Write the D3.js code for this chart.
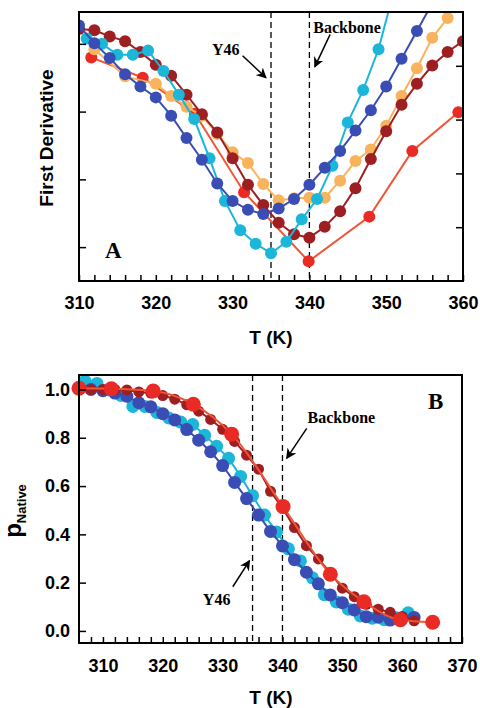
<!DOCTYPE html>
<html>
<head>
<meta charset="utf-8">
<script src="https://cdn.jsdelivr.net/npm/d3@7"></script>
<style>
  body { margin: 0; background: #fff; }
  svg { display: block; }
</style>
</head>
<body>
<div id="canvas"></div>
<script>
// ---- panel A : first derivative ----
var cyanA_T = [311,313,315,317,319,321,323,325,327,329,331,333,335,337,339,341,343,345,347,349,351];
var cyanA   = [4.08,4.00,3.84,3.84,3.90,3.60,3.25,2.89,2.31,1.68,1.25,1.05,0.91,1.08,1.41,1.71,2.20,2.84,3.32,3.92,4.78];

var blueA_T = [310,312,314,316,318,320,322,324,326,328,330,332,334,336,338,340,342,344,346,348,350,352,354,356];
var blueA   = [4.27,4.01,3.79,3.55,3.37,3.21,2.94,2.61,2.29,1.94,1.68,1.55,1.49,1.57,1.71,1.92,2.17,2.42,2.72,3.02,3.37,3.78,4.19,4.6];

var orangeA_T = [312,316,320,322,324,326,328,330,332,334,336,338,340,342,344,346,348,350,352,354,356,358,360];
var orangeA   = [3.92,3.52,3.41,3.23,3.07,2.94,2.67,2.40,2.24,1.93,1.69,1.72,1.73,1.73,1.98,2.27,2.44,2.79,3.23,3.64,4.09,4.38,4.83];

var darkredA_T = [310,312,314,316,318,320,322,324,326,328,330,332,334,336,338,340,342,344,346,348,350,352,354,356,358,360];
var darkredA   = [4.22,4.20,4.11,4.04,3.88,3.69,3.53,3.25,2.96,2.69,2.31,1.92,1.62,1.36,1.19,1.14,1.30,1.53,1.87,2.30,2.71,3.10,3.41,3.68,3.88,4.04];

var redA_T = [311.6,318.3,325.1,331.5,339.9,347.8,353.4,359.4];
var redA   = [3.80,3.50,2.97,1.81,0.79,1.45,2.42,2.99];

// ---- panel B : pNative ----
var cyanB_T = [307,309,311,313,315,317,319,321,323,325,327,329,331,333,335,337,339,341,343,345,347,349,351,353,355,357,359,361];
var cyanB   = [1.035,1.025,0.998,0.975,0.93,0.93,0.905,0.882,0.865,0.855,0.81,0.765,0.715,0.64,0.56,0.48,0.41,0.34,0.29,0.22,0.15,0.12,0.09,0.062,0.053,0.047,0.055,0.075];

var blueB_T = [308,310,312,314,316,318,320,322,324,326,328,330,332,334,336,338,340,342,344,346,348,350,352,354,356,358,360,362];
var blueB   = [1.0,0.995,0.985,0.972,0.945,0.928,0.90,0.874,0.834,0.79,0.742,0.685,0.615,0.548,0.48,0.412,0.352,0.295,0.243,0.195,0.149,0.117,0.087,0.059,0.057,0.045,0.052,0.056];

var darkredB_T = [308,310,312,314,316,318,320,322,324,326,328,330,332,334,336,338,340,342,344,346,348,350,352,354,356,358,360,362];
var darkredB   = [1.0,1.0,1.0,0.998,0.99,0.985,0.975,0.96,0.937,0.91,0.876,0.835,0.785,0.728,0.67,0.578,0.51,0.428,0.353,0.298,0.24,0.177,0.142,0.11,0.09,0.077,0.06,0.042];

var redB_T = [306,311.4,318.4,325.1,331.5,340.1,348,353.6,359.7,365.1];
var redB   = [1.005,1.003,0.994,0.939,0.815,0.515,0.235,0.121,0.046,0.036];

var markT = [335, 340]; // Y46, Backbone

var col = {
  cyan: "#1cb6d8",
  blue: "#3a4db4",
  orange: "#f8b35c",
  darkred: "#9e1f22",
  red: "#ea2a24",
  redline: "#f05534"
};

var W = 480, H = 708;
var sansF = "'Liberation Sans', Arial, sans-serif";
var serifF = "'Liberation Serif', 'Times New Roman', serif";

var svg = d3.select("#canvas").append("svg")
  .attr("width", W).attr("height", H);

var defs = svg.append("defs");
defs.append("marker").attr("id", "arr")
  .attr("viewBox", "0 0 10 10").attr("refX", 9).attr("refY", 5)
  .attr("markerWidth", 7).attr("markerHeight", 7).attr("orient", "auto")
  .append("path").attr("d", "M0,0 L10,5 L0,10 L3,5 Z").attr("fill", "#000");

function zip(ts, vs) { return ts.map(function(t, i) { return {t: t, v: vs[i]}; }); }

function series(g, x, y, data, color, lineColor, r, curve) {
  var line = d3.line().x(function(d){ return x(d.t); }).y(function(d){ return y(d.v); });
  if (curve) line.curve(curve);
  g.append("path").datum(data)
    .attr("fill", "none").attr("stroke", lineColor || color).attr("stroke-width", 2)
    .attr("d", line);
  g.selectAll(null).data(data).join("circle")
    .attr("cx", function(d){ return x(d.t); })
    .attr("cy", function(d){ return y(d.v); })
    .attr("r", r).attr("fill", color);
}

function styleAxis(g, fs) {
  g.select(".domain").remove();
  g.selectAll(".tick line").attr("stroke", "#000").attr("stroke-width", 1.5);
  g.selectAll("text").attr("font-family", sansF).attr("font-weight", "bold")
    .attr("font-size", fs).attr("fill", "#000");
}

function arrow(g, x, y, a, b) {
  g.append("line")
    .attr("x1", x(a[0])).attr("y1", y(a[1]))
    .attr("x2", x(b[0])).attr("y2", y(b[1]))
    .attr("stroke", "#000").attr("stroke-width", 1.5)
    .attr("marker-end", "url(#arr)");
}

// ================= Panel A =================
var xA = d3.scaleLinear().domain([310, 360]).range([79, 463]);
var yA = d3.scaleLinear().domain([0.5, 4.47]).range([281, 12]);
var yA2 = d3.scaleLinear().domain([0, 5]).range([281, 12]);

var gA = svg.append("g");
defs.append("clipPath").attr("id", "clipA").append("rect")
  .attr("x", 79).attr("y", 12).attr("width", 384).attr("height", 269);

// dashed lines
gA.selectAll(null).data(markT).join("line")
  .attr("x1", function(d){ return xA(d); }).attr("x2", function(d){ return xA(d); })
  .attr("y1", yA.range()[1]).attr("y2", yA.range()[0])
  .attr("stroke", "#000").attr("stroke-width", 1.3).attr("stroke-dasharray", "6,4");

var pA = gA.append("g").attr("clip-path", "url(#clipA)");
series(pA, xA, yA, zip(redA_T, redA), col.red, col.redline, 6);
series(pA, xA, yA, zip(orangeA_T, orangeA), col.orange, null, 6);
series(pA, xA, yA, zip(darkredA_T, darkredA), col.darkred, null, 6);
series(pA, xA, yA, zip(cyanA_T, cyanA), col.cyan, null, 6);
series(pA, xA, yA, zip(blueA_T, blueA), col.blue, null, 6);

// axes
var axA = gA.append("g").attr("transform", "translate(0," + yA.range()[0] + ")")
  .call(d3.axisBottom(xA).tickValues(d3.range(310, 361, 2))
    .tickSizeInner(-6).tickSizeOuter(0).tickPadding(15)
    .tickFormat(function(d){ return d % 10 === 0 ? d : ""; }));
styleAxis(axA, 18);

var ayA = gA.append("g").attr("transform", "translate(" + xA.range()[0] + ",0)")
  .call(d3.axisLeft(yA).tickValues([1, 2, 3, 4]).tickSizeInner(-7).tickSizeOuter(0).tickFormat(""));
styleAxis(ayA, 18);
var ayA2 = gA.append("g").attr("transform", "translate(" + xA.range()[1] + ",0)")
  .call(d3.axisRight(yA2).tickValues([1, 2, 3, 4]).tickSizeInner(-7).tickSizeOuter(0).tickFormat(""));
styleAxis(ayA2, 18);

gA.append("rect").attr("x", 79).attr("y", 12).attr("width", 384).attr("height", 269)
  .attr("fill", "none").attr("stroke", "#000").attr("stroke-width", 2);

gA.append("text").attr("x", 271).attr("y", 344).attr("text-anchor", "middle")
  .attr("font-family", sansF).attr("font-weight", "bold").attr("font-size", 19).text("T (K)");
gA.append("text").attr("transform", "translate(53,138) rotate(-90)").attr("text-anchor", "middle")
  .attr("font-family", sansF).attr("font-weight", "bold").attr("font-size", 19).text("First Derivative");

gA.append("text").attr("x", xA(313.4)).attr("y", yA(0.84))
  .attr("font-family", serifF).attr("font-weight", "bold").attr("font-size", 23).text("A");
gA.append("text").attr("x", xA(329.1)).attr("y", yA(3.835)).attr("text-anchor", "middle")
  .attr("font-family", serifF).attr("font-weight", "bold").attr("font-size", 16).text("Y46");
arrow(gA, xA, yA, [331.3, 3.825], [334.35, 3.5]);
gA.append("text").attr("x", xA(340.5)).attr("y", yA(4.16))
  .attr("font-family", serifF).attr("font-weight", "bold").attr("font-size", 16).text("Backbone");
arrow(gA, xA, yA, [342.7, 4.14], [340.7, 3.66]);

// ================= Panel B =================
var xB = d3.scaleLinear().domain([306, 370]).range([79, 462]);
var yB = d3.scaleLinear().domain([-0.05, 1.06]).range([643, 375]);

var gB = svg.append("g");

gB.selectAll(null).data(markT).join("line")
  .attr("x1", function(d){ return xB(d); }).attr("x2", function(d){ return xB(d); })
  .attr("y1", yB.range()[1]).attr("y2", yB.range()[0])
  .attr("stroke", "#000").attr("stroke-width", 1.3).attr("stroke-dasharray", "6,4");

series(gB, xB, yB, zip(cyanB_T, cyanB), col.cyan, null, 6.5);
series(gB, xB, yB, zip(blueB_T, blueB), col.blue, null, 6.5);
series(gB, xB, yB, zip(darkredB_T, darkredB), col.darkred, null, 5.5);
series(gB, xB, yB, zip(redB_T, redB), col.red, col.redline, 7.5, d3.curveMonotoneX);

var axB = gB.append("g").attr("transform", "translate(0," + yB.range()[0] + ")")
  .call(d3.axisBottom(xB).tickValues(d3.range(308, 371, 2))
    .tickSizeInner(-6).tickSizeOuter(0).tickPadding(16)
    .tickFormat(function(d){ return d % 10 === 0 ? d : ""; }));
styleAxis(axB, 18);

var ayB = gB.append("g").attr("transform", "translate(" + xB.range()[0] + ",0)")
  .call(d3.axisLeft(yB).tickValues([0, 0.2, 0.4, 0.6, 0.8, 1.0])
    .tickSizeInner(-7).tickSizeOuter(0).tickPadding(9).tickFormat(d3.format(".1f")));
styleAxis(ayB, 18);

gB.append("rect").attr("x", 79).attr("y", 375).attr("width", 383).attr("height", 268)
  .attr("fill", "none").attr("stroke", "#000").attr("stroke-width", 2);

gB.append("text").attr("x", 271).attr("y", 704).attr("text-anchor", "middle")
  .attr("font-family", sansF).attr("font-weight", "bold").attr("font-size", 19).text("T (K)");

var pl = gB.append("text").attr("transform", "translate(21,511) rotate(-90)").attr("text-anchor", "middle")
  .attr("font-family", sansF).attr("font-weight", "bold");
pl.append("tspan").attr("font-size", 24).text("p");
pl.append("tspan").attr("font-size", 13).attr("dy", 5).text("Native");

gB.append("text").attr("x", xB(364.3)).attr("y", yB(0.919))
  .attr("font-family", serifF).attr("font-weight", "bold").attr("font-size", 23).text("B");
gB.append("text").attr("x", xB(344.2)).attr("y", yB(0.861))
  .attr("font-family", serifF).attr("font-weight", "bold").attr("font-size", 16).text("Backbone");
arrow(gB, xB, yB, [344.05, 0.839], [340.7, 0.715]);
gB.append("text").attr("x", xB(329)).attr("y", yB(0.107)).attr("text-anchor", "middle")
  .attr("font-family", serifF).attr("font-weight", "bold").attr("font-size", 16).text("Y46");
arrow(gB, xB, yB, [331.7, 0.183], [334.5, 0.291]);
</script>
</body>
</html>
